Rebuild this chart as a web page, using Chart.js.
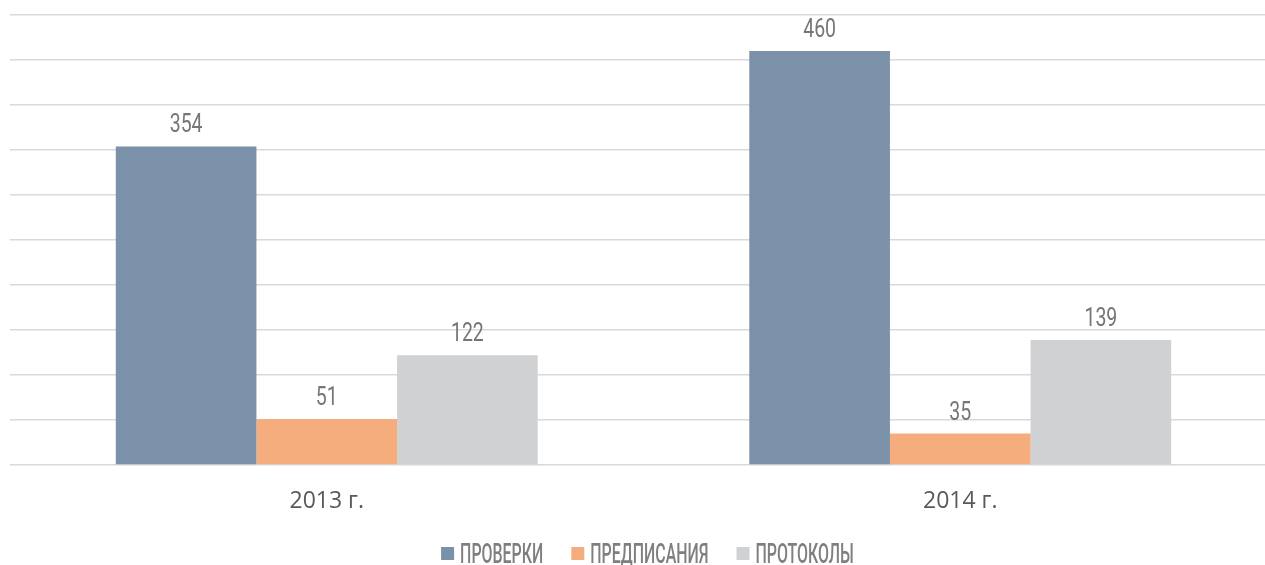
<!DOCTYPE html>
<html><head><meta charset="utf-8">
<script src="https://cdn.jsdelivr.net/npm/chart.js@4/dist/chart.umd.min.js"></script>
<style>html,body{margin:0;padding:0;overflow:hidden;background:#fff;width:1265px;height:565px}
#wrap{position:absolute;left:0;top:0;width:1280px;height:565px}</style>
</head><body><div id="wrap"><canvas id="c"></canvas></div>
<script>
const categories = ['2013 г.', '2014 г.'];
const seriesNames = ['ПРОВЕРКИ', 'ПРЕДПИСАНИЯ', 'ПРОТОКОЛЫ'];
const proverki = [354, 460];
const predpisaniya = [51, 35];
const protokoly = [122, 139];
const colors = ['#7b90a9', '#f5ad7e', '#d0d1d3'];

const labelPlugin = {
  id: 'vals',
  afterDatasetsDraw(chart) {
    const ctx = chart.ctx;
    chart.data.datasets.forEach((ds, i) => {
      const meta = chart.getDatasetMeta(i);
      meta.data.forEach((bar, j) => {
        ctx.save();
        ctx.translate(bar.x, bar.y - 14);
        ctx.scale(0.75, 1);
        ctx.font = '26px Roboto';
        ctx.fillStyle = '#767676';
        ctx.textAlign = 'center';
        ctx.textBaseline = 'alphabetic';
        ctx.fillText(String(ds.data[j]), 0, 0);
        ctx.restore();
      });
    });
  }
};

const legendPlugin = {
  id: 'customLegend',
  afterDraw(chart) {
    const ctx = chart.ctx;
    const sx = 0.59, box = 13, gapBox = 6, gapItem = 28;
    ctx.save();
    ctx.font = '500 27px Roboto';
    const items = chart.data.datasets.map(ds => ({
      text: ds.label, color: ds.backgroundColor,
      w: ctx.measureText(ds.label).width * sx
    }));
    const total = items.reduce((a, it) => a + box + gapBox + it.w, 0) + gapItem * (items.length - 1);
    let x = 647.5 - total / 2;
    const yMid = 554;
    items.forEach(it => {
      ctx.fillStyle = it.color;
      ctx.fillRect(x, yMid - 7, box, box);
      x += box + gapBox;
      ctx.save();
      ctx.translate(x, yMid + 8.5);
      ctx.scale(sx, 1);
      ctx.fillStyle = '#7f7f7f';
      ctx.textAlign = 'left';
      ctx.textBaseline = 'alphabetic';
      ctx.fillText(it.text, 0, 0);
      ctx.restore();
      x += it.w + gapItem;
    });
    ctx.restore();
  }
};

new Chart(document.getElementById('c'), {
  type: 'bar',
  data: {
    labels: categories,
    datasets: [
      { label: seriesNames[0], data: proverki, backgroundColor: colors[0] },
      { label: seriesNames[1], data: predpisaniya, backgroundColor: colors[1] },
      { label: seriesNames[2], data: protokoly, backgroundColor: colors[2] }
    ]
  },
  options: {
    responsive: true,
    maintainAspectRatio: false,
    animation: false,
    layout: { padding: { left: 10, right: 3, top: 15, bottom: 0 } },
    datasets: { bar: { categoryPercentage: 0.666, barPercentage: 1 } },
    plugins: { legend: { display: false }, tooltip: { enabled: false } },
    scales: {
      x: {
        grid: { display: false },
        border: { display: false },
        ticks: { color: '#595959', font: { family: 'Open Sans', size: 23 }, padding: 15 },
        afterFit(s) { s.height = 100; }
      },
      y: {
        min: 0, max: 500,
        ticks: { display: false, stepSize: 50 },
        grid: { color: '#d9d9d9', lineWidth: 1.5, drawTicks: false },
        border: { display: false },
        afterFit(s) { s.width = 0; }
      }
    }
  },
  plugins: [labelPlugin, legendPlugin]
});
</script>
</body></html>
